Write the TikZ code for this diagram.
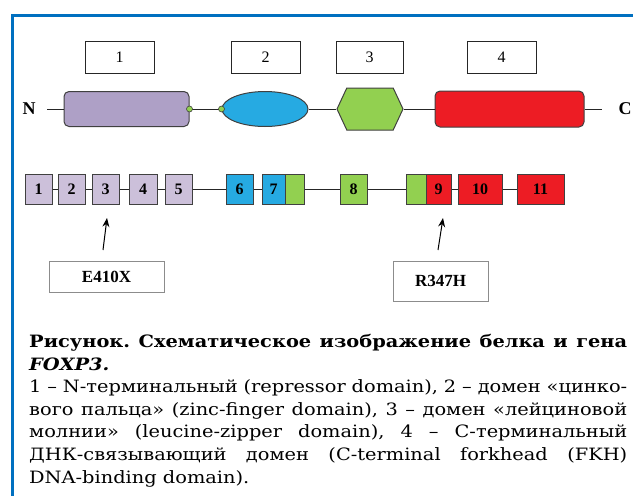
\documentclass[tikz,border=0pt]{standalone}
\usepackage{fontspec}
\setmainfont{Liberation Serif}
\newfontfamily\capfont[FakeStretch=1.14]{DejaVu Serif}
\usetikzlibrary{shapes.geometric,shapes.symbols,arrows.meta}
\definecolor{frameblue}{RGB}{0,112,192}
\definecolor{replilac}{RGB}{174,160,198}
\definecolor{exlilac}{RGB}{204,192,218}
\definecolor{zfblue}{RGB}{38,170,226}
\definecolor{lzgreen}{RGB}{146,208,80}
\definecolor{fkhred}{RGB}{237,28,36}
\definecolor{edgegray}{RGB}{64,64,64}
\frenchspacing
\begin{document}
\begin{tikzpicture}[x=1pt,y=-1pt,
  numbox/.style={draw=black!85,line width=0.9pt,minimum width=69pt,minimum height=32pt,inner sep=0pt,font=\fontsize{16}{16}\selectfont},
  dombox/.style={draw=edgegray,line width=1pt,inner sep=0pt},
  dot/.style={circle,draw=edgegray,fill=lzgreen,line width=0.6pt,minimum size=6pt,inner sep=0pt},
  exon/.style={draw=edgegray,line width=1pt,minimum height=30pt,inner sep=0pt,font=\bfseries\fontsize{16}{16}\selectfont},
  linker/.style={line width=0.9pt,draw=black!85},
  mutbox/.style={draw=black!45,line width=0.9pt,inner sep=0pt,font=\bfseries\fontsize{17}{17}\selectfont},
  mutarrow/.style={line width=1pt,-{Stealth[length=9pt,width=7pt]}},
  termlbl/.style={font=\bfseries\fontsize{18}{18}\selectfont}]
\useasboundingbox (0,0) rectangle (633,496);
% рамка
\draw[frameblue,line width=3pt] (633,15) -- (12,15) -- (12,496);
% номера доменов
\node[numbox] (box1) at (119.5,57) {1};
\node[numbox] (box2) at (265.5,57) {2};
\node[numbox,minimum width=67pt] (box3) at (369.5,57) {3};
\node[numbox] (box4) at (501.5,57) {4};
% белок
\node[termlbl] (nterm) at (29,109) {N};
\coordinate (nstart) at (47,109);
\node[dombox,fill=replilac,rounded corners=5pt,minimum width=125pt,minimum height=35pt] (dom1) at (126.5,109) {};
\node[dombox,fill=zfblue,ellipse,minimum width=86pt,minimum height=35pt] (dom2) at (265,109) {};
\node[dombox,fill=lzgreen,signal,signal to=east and west,signal pointer angle=130,minimum width=66pt,minimum height=42pt] (dom3) at (370,109) {};
\node[dombox,fill=fkhred,rounded corners=5pt,minimum width=149pt,minimum height=36pt] (dom4) at (509.5,109) {};
\coordinate (cend) at (602,109);
\node[termlbl] (cterm) at (625,109) {C};
\draw[linker] (nstart) -- (dom1);
\draw[linker] (dom1.east) -- (dom2.west);
\draw[linker] (dom2) -- (dom3);
\draw[linker] (dom3) -- (dom4);
\draw[linker] (dom4) -- (cend);
\node[dot] (dot1) at (dom1.east) {};
\node[dot] (dot2) at (dom2.west) {};
% экзоны
\node[exon,fill=exlilac,minimum width=27pt] (ex1) at (38.5,189) {1};
\node[exon,fill=exlilac,minimum width=27pt] (ex2) at (71.5,189) {2};
\node[exon,fill=exlilac,minimum width=27pt] (ex3) at (105.5,189) {3};
\node[exon,fill=exlilac,minimum width=28pt] (ex4) at (143,189) {4};
\node[exon,fill=exlilac,minimum width=27pt] (ex5) at (178.5,189) {5};
\node[exon,fill=zfblue,minimum width=27pt] (ex6) at (239.5,189) {6};
\node[exon,fill=zfblue,minimum width=23pt] (ex7) at (273.5,189) {7};
\node[exon,fill=lzgreen,minimum width=19pt] (ex7b) at (294.5,189) {};
\node[exon,fill=lzgreen,minimum width=27pt] (ex8) at (353.5,189) {8};
\node[exon,fill=lzgreen,minimum width=20pt] (ex9a) at (416,189) {};
\node[exon,fill=fkhred,minimum width=25pt] (ex9) at (438.5,189) {9};
\node[exon,fill=fkhred,minimum width=44pt] (ex10) at (480,189) {10};
\node[exon,fill=fkhred,minimum width=47pt] (ex11) at (540.5,189) {11};
\draw[linker] (ex1) -- (ex2);
\draw[linker] (ex2) -- (ex3);
\draw[linker] (ex3) -- (ex4);
\draw[linker] (ex4) -- (ex5);
\draw[linker] (ex5) -- (ex6);
\draw[linker] (ex6) -- (ex7);
\draw[linker] (ex7b) -- (ex8);
\draw[linker] (ex8) -- (ex9a);
\draw[linker] (ex9) -- (ex10);
\draw[linker] (ex10) -- (ex11);
% мутации
\node[mutbox,minimum width=115pt,minimum height=31pt] (mut1) at (106.5,276.5) {E410X};
\node[mutbox,minimum width=95pt,minimum height=40pt] (mut2) at (440.5,281) {R347H};
\coordinate (arr1s) at (103,250);
\coordinate (arr1e) at (107,218);
\coordinate (arr2s) at (438,250);
\coordinate (arr2e) at (443,218);
\draw[mutarrow] (arr1s) -- (arr1e);
\draw[mutarrow] (arr2s) -- (arr2e);
% подпись
\node[anchor=north west,inner sep=0pt,text width=598pt,align=justify,
  font=\capfont\fontsize{17}{22.6}\selectfont] (capt) at (29,334) {%
{\bfseries Рисунок. Схематическое изображение белка и гена\linebreak
\itshape FOXP3.}\\
1 – N-терминальный (repressor domain), 2 – домен «цинко-\linebreak
вого пальца» (zinc-finger domain), 3 – домен «лейциновой\linebreak
молнии» (leucine-zipper domain), 4 – С-терминальный\linebreak
ДНК-связывающий домен (C-terminal forkhead (FKH)\linebreak
DNA-binding domain).};
\end{tikzpicture}
\end{document}
